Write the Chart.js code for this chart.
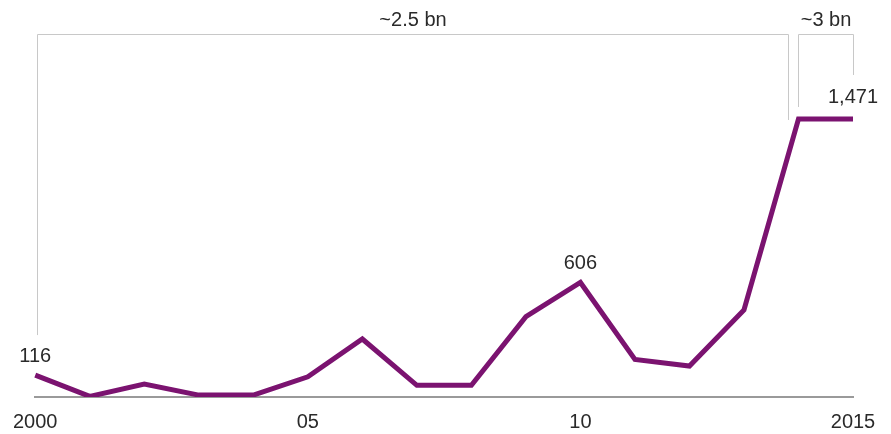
<!DOCTYPE html>
<html>
<head>
<meta charset="utf-8">
<script src="https://cdn.jsdelivr.net/npm/chart.js@4/dist/chart.umd.min.js"></script>
<style>
  html, body { margin: 0; padding: 0; background: #fff; }
  #wrap { width: 891px; height: 434px; }
</style>
</head>
<body>
<div id="wrap"><canvas id="myChart"></canvas></div>
<script>
const years = ['2000','2001','2002','2003','2004','2005','2006','2007','2008','2009','2010','2011','2012','2013','2014','2015'];
const values = [116, 3, 69, 10, 10, 107, 307, 62, 62, 425, 606, 199, 164, 460, 1471, 1471];
const tickLabels = {'2000': '2000', '2005': '05', '2010': '10', '2015': '2015'};
const pointLabels = [{i: 0, text: '116'}, {i: 10, text: '606'}, {i: 15, text: '1,471'}];
const brackets = [
  {from: 0, to: 14, text: '~2.5 bn'},
  {from: 14, to: 15, text: '~3 bn'}
];

const FONT = '"Liberation Sans", Arial, sans-serif';
const lineColor = '#7b1370';

// labels on the line and the brackets over it
const annotate = {
  id: 'annotate',
  afterDatasetsDraw(chart) {
    const ctx = chart.ctx;
    const x = chart.scales.x, y = chart.scales.y;
    ctx.save();
    ctx.font = '20px ' + FONT;
    ctx.fillStyle = '#2a2a2a';
    ctx.textAlign = 'center';
    ctx.textBaseline = 'alphabetic';
    pointLabels.forEach(p => {
      const px = x.getPixelForValue(p.i);
      const py = y.getPixelForValue(values[p.i]);
      ctx.fillText(p.text, px, py - (p.i === 15 ? 16 : 13));
    });

    // brackets
    const top = 34.5;
    ctx.strokeStyle = '#c8c8c8';
    ctx.lineWidth = 1;
    brackets.forEach((b, k) => {
      let x1 = x.getPixelForValue(b.from), x2 = x.getPixelForValue(b.to);
      let y1, y2;
      if (k === 0) {
        x1 += 2; x2 -= 10;
        y1 = y.getPixelForValue(values[b.from]) - 40;
        y2 = y.getPixelForValue(values[b.to]) + 1;
      } else {
        y1 = y.getPixelForValue(values[b.from]) - 12;
        y2 = y.getPixelForValue(values[b.to]) - 44;
      }
      x1 = Math.round(x1) + 0.5; x2 = Math.round(x2) + 0.5;
      ctx.beginPath();
      ctx.moveTo(x1, y1);
      ctx.lineTo(x1, top);
      ctx.lineTo(x2, top);
      ctx.lineTo(x2, y2);
      ctx.stroke();
      ctx.fillText(b.text, (x1 + x2) / 2, 26);
    });
    ctx.restore();
  }
};

new Chart('myChart', {
  type: 'line',
  data: {
    labels: years,
    datasets: [{
      data: values,
      borderColor: lineColor,
      borderWidth: 5,
      borderJoinStyle: 'miter',
      pointRadius: 0,
      tension: 0,
      fill: false
    }]
  },
  options: {
    responsive: true,
    maintainAspectRatio: false,
    animation: false,
    layout: {padding: {left: 33, right: 38, top: 60, bottom: -13}},
    plugins: {legend: {display: false}, tooltip: {enabled: false}},
    scales: {
      x: {
        offset: false,
        grid: {display: false, drawTicks: false},
        border: {display: true, color: '#9a9a9a', width: 2},
        ticks: {
          autoSkip: false,
          maxRotation: 0,
          padding: 13,
          color: '#2a2a2a',
          font: {family: FONT, size: 20},
          callback: function(v) { return tickLabels[this.getLabelForValue(v)] || ''; }
        }
      },
      y: {
        display: false,
        min: 0,
        max: 1783
      }
    }
  },
  plugins: [annotate]
});
</script>
</body>
</html>
